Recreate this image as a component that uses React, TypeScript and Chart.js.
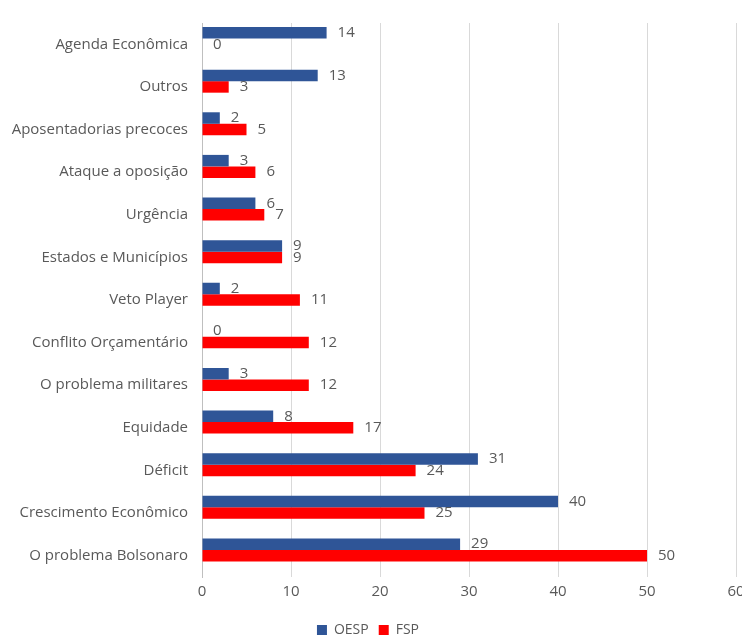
import React, { useEffect, useRef } from "react";
import { Chart, registerables } from "chart.js";

Chart.register(...registerables);

const categories = [
  "Agenda Econômica",
  "Outros",
  "Aposentadorias precoces",
  "Ataque a oposição",
  "Urgência",
  "Estados e Municípios",
  "Veto Player",
  "Conflito Orçamentário",
  "O problema militares",
  "Equidade",
  "Déficit",
  "Crescimento Econômico",
  "O problema Bolsonaro",
];
const oespValues = [14, 13, 2, 3, 6, 9, 2, 0, 3, 8, 31, 40, 29];
const fspValues = [0, 3, 5, 6, 7, 9, 11, 12, 12, 17, 24, 25, 50];
// empty third series slot (as in the original spreadsheet chart)
const emptyValues = categories.map(() => null);
const xTicks = [0, 10, 20, 30, 40, 50, 60];

const FONT = "'Open Sans', 'DejaVu Sans', sans-serif";
const TEXT = "#595959";

const labelPlugin = {
  id: "barLabels",
  afterDatasetsDraw(chart: any) {
    const ctx = chart.ctx;
    ctx.save();
    ctx.font = `15px ${FONT}`;
    ctx.fillStyle = TEXT;
    ctx.textAlign = "left";
    ctx.textBaseline = "middle";
    chart.data.datasets.forEach((ds: any, di: number) => {
      const meta = chart.getDatasetMeta(di);
      meta.data.forEach((el: any, i: number) => {
        const v = ds.data[i];
        if (v === null || v === undefined) return;
        ctx.fillText(String(v), el.x + 11, el.y);
      });
    });
    ctx.restore();
  },
};

const legendShift = {
  id: "legendShift",
  afterLayout(chart: any) {
    if (chart.legend) {
      chart.legend.top += 10;
      chart.legend.bottom += 10;
    }
  },
};

export default function App() {
  const ref = useRef<HTMLCanvasElement | null>(null);
  useEffect(() => {
    if (!ref.current) return;
    const chart = new Chart(ref.current, {
      type: "bar",
      data: {
        labels: categories,
        datasets: [
          {
            label: "OESP",
            data: oespValues,
            backgroundColor: "#2F5597",
            categoryPercentage: 0.81,
            barPercentage: 1,
          },
          {
            label: "FSP",
            data: fspValues,
            backgroundColor: "#FF0000",
            categoryPercentage: 0.81,
            barPercentage: 1,
          },
          {
            label: "",
            data: emptyValues,
            backgroundColor: "rgba(0,0,0,0)",
            categoryPercentage: 0.81,
            barPercentage: 1,
          },
        ],
      },
      options: {
        indexAxis: "y",
        animation: false,
        responsive: true,
        maintainAspectRatio: false,
        layout: { padding: { top: 21, right: 6, bottom: 0, left: 0 } },
        plugins: {
          tooltip: { enabled: false },
          legend: {
            position: "bottom",
            labels: {
              boxWidth: 10,
              boxHeight: 10,
              color: TEXT,
              font: { family: FONT, size: 14 },
              padding: 10,
              generateLabels: (chart: any) =>
                chart.data.datasets.slice(0, 2).map((d: any, i: number) => ({
                  text: d.label,
                  fillStyle: d.backgroundColor,
                  strokeStyle: d.backgroundColor,
                  lineWidth: 0,
                  datasetIndex: i,
                  fontColor: TEXT,
                })),
            },
          },
        },
        scales: {
          x: {
            min: 0,
            max: 60,
            afterBuildTicks: (s: any) => {
              s.ticks = xTicks.map((v) => ({ value: v }));
            },
            afterFit: (s: any) => {
              s.paddingLeft = 0;
              s.paddingRight = 0;
              s.height = 26;
            },
            grid: { color: "#D9D9D9", drawTicks: false },
            border: { display: false },
            ticks: {
              color: TEXT,
              font: { family: FONT, size: 15 },
              padding: 6,
            },
          },
          y: {
            afterFit: (s: any) => {
              s.width = 202;
            },
            grid: { display: false, drawTicks: false },
            border: { display: true, color: "#BFBFBF" },
            ticks: {
              color: TEXT,
              font: { family: FONT, size: 15 },
              padding: 14,
            },
          },
        },
      },
      plugins: [labelPlugin, legendShift],
    });
    return () => chart.destroy();
  }, []);
  return (
    <div style={{ position: "fixed", left: 0, top: 0, width: 742, height: 637, background: "#fff" }}>
      <canvas ref={ref} />
    </div>
  );
}
